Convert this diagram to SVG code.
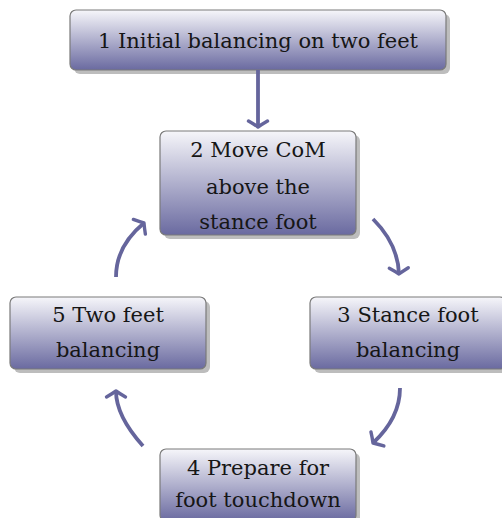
<svg xmlns="http://www.w3.org/2000/svg" width="502" height="518" viewBox="0 0 502 518">
<defs>
<linearGradient id="g" x1="0" y1="0" x2="0" y2="1">
<stop offset="0" stop-color="#f6f6fa"/>
<stop offset="1" stop-color="#6a6aa0"/>
</linearGradient>
<marker id="ah" markerUnits="userSpaceOnUse" markerWidth="24" markerHeight="24" refX="12" refY="12" orient="auto" viewBox="0 0 24 24">
<path d="M6,2.5 Q9.5,8.5 12,12 Q9.5,15.5 6,21.5" fill="none" stroke="#65659c" stroke-width="3.4" stroke-linecap="round" stroke-linejoin="round"/>
</marker>
</defs>
<style>
.sh{fill:#bdbdbd}
.bx{fill:url(#g);stroke:#7a7a7a;stroke-width:1.2}
.t{font-family:'DejaVu Serif',serif;font-size:21px;fill:#161616;text-anchor:middle}
.c{fill:none;stroke:#65659c;stroke-width:3.8;marker-end:url(#ah)}
</style>
<g id="n1">
<rect class="sh" x="74" y="14" width="376" height="60" rx="6"/>
<rect class="bx" x="70" y="10" width="376" height="60" rx="6"/>
<text class="t" x="258" y="48">1 Initial balancing on two feet</text>
</g>
<g id="n2">
<rect class="sh" x="164" y="135" width="196" height="104" rx="6"/>
<rect class="bx" x="160" y="131" width="196" height="104" rx="6"/>
<text class="t" x="258" y="157">2 Move CoM</text>
<text class="t" x="258" y="194">above the</text>
<text class="t" x="258" y="229">stance foot</text>
</g>
<g id="n3">
<rect class="sh" x="314" y="301" width="196" height="72" rx="6"/>
<rect class="bx" x="310" y="297" width="196" height="72" rx="6"/>
<text class="t" x="408" y="322">3 Stance foot</text>
<text class="t" x="408" y="357">balancing</text>
</g>
<g id="n4">
<rect class="sh" x="164" y="453" width="196" height="72" rx="6"/>
<rect class="bx" x="160" y="449" width="196" height="72" rx="6"/>
<text class="t" x="258" y="475">4 Prepare for</text>
<text class="t" x="258" y="507">foot touchdown</text>
</g>
<g id="n5">
<rect class="sh" x="14" y="301" width="196" height="72" rx="6"/>
<rect class="bx" x="10" y="297" width="196" height="72" rx="6"/>
<text class="t" x="108" y="322">5 Two feet</text>
<text class="t" x="108" y="357">balancing</text>
</g>
<g id="connectors">
<path class="c" d="M258,70 L258,127"/>
<path class="c" d="M373,219 Q398,244 399,274"/>
<path class="c" d="M400,388 Q400,418 373,443"/>
<path class="c" d="M143,446 Q116,416 116,391"/>
<path class="c" d="M116,277 Q116,246 144,223"/>
</g>
</svg>
